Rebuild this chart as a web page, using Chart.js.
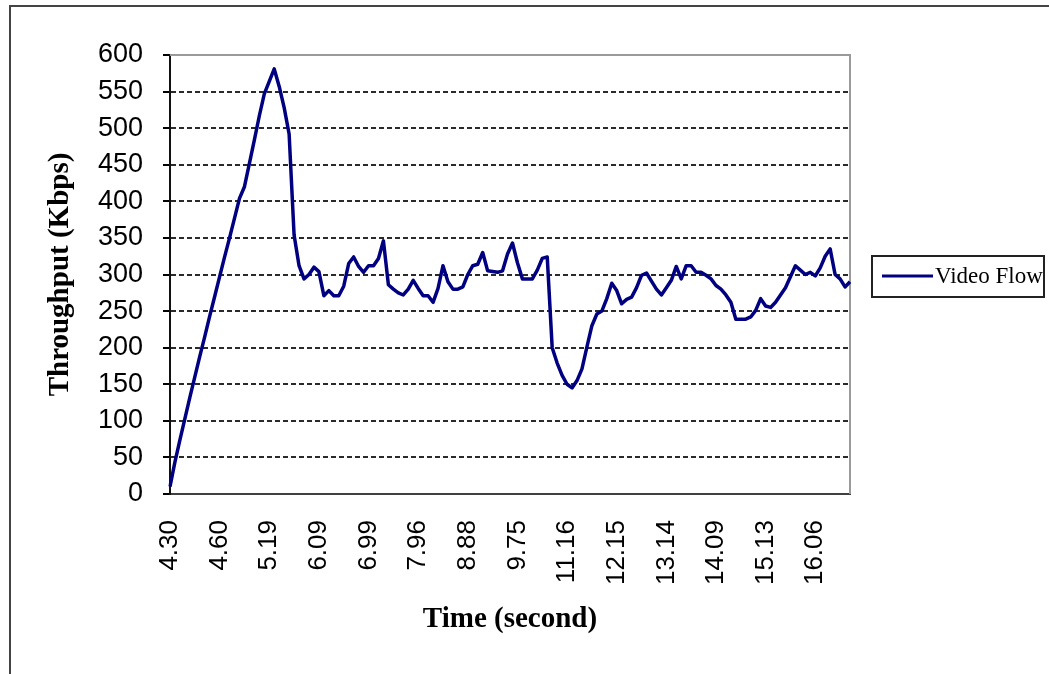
<!DOCTYPE html>
<html>
<head>
<meta charset="utf-8">
<script src="https://cdn.jsdelivr.net/npm/chart.js@4.4.0/dist/chart.umd.min.js"></script>
<style>
  html, body { margin: 0; padding: 0; background: #fff; }
  #wrap { position: relative; width: 1049px; height: 674px; overflow: hidden; }
  #frame { position: absolute; left: 9px; top: 5px; width: 1100px; height: 700px;
           border-left: 2px solid #444; border-top: 2px solid #444; }
  canvas { position: absolute; left: 0; top: 0; }
</style>
</head>
<body>
<div id="wrap">
  <div id="frame"></div>
  <canvas id="chart" width="1049" height="674"></canvas>
</div>
<script>
// ─── Data ────────────────────────────────────────────────────────────────────
const TICK_LABELS = ['4.30', '4.60', '5.19', '6.09', '6.99', '7.96', '8.88',
                     '9.75', '11.16', '12.15', '13.14', '14.09', '15.13', '16.06'];
const LABEL_EVERY = 10;   // one time label per 10 samples

const THROUGHPUT = [
  10, 44, 74, 103, 132, 160, 188, 215, 243, 270,
  297, 324, 350, 377, 404, 420, 452, 484, 517, 547,
  564, 581, 557, 528, 492, 354, 312, 294, 300, 310,
  304, 271, 278, 271, 271, 284, 315, 324, 311, 303,
  312, 312, 322, 346, 286, 280, 275, 272, 280, 292,
  281, 271, 271, 262, 281, 312, 290, 280, 280, 283,
  300, 312, 314, 330, 305, 304, 303, 305, 328, 343,
  316, 294, 294, 294, 306, 322, 324, 200, 179, 162,
  150, 145, 155, 171, 201, 230, 246, 250, 267, 288,
  278, 260, 266, 269, 282, 299, 302, 291, 280, 272,
  282, 292, 311, 294, 312, 312, 303, 303, 299, 294,
  285, 280, 272, 262, 239, 239, 239, 242, 251, 267,
  257, 255, 262, 272, 282, 297, 312, 306, 300, 303,
  298, 309, 325, 335, 300, 294, 283, 290
];

const categories = THROUGHPUT.map((_, i) =>
  i % LABEL_EVERY === 0 ? (TICK_LABELS[i / LABEL_EVERY] || '') : '');

const SANS  = '"Liberation Sans", Arial, sans-serif';
const SERIF = '"Liberation Serif", "Times New Roman", serif';

// ─── Excel-style plot frame (grey top + right edge) ──────────────────────────
const plotFrame = {
  id: 'plotFrame',
  beforeDatasetsDraw(chart) {
    const { ctx, chartArea: a } = chart;
    ctx.save();
    ctx.strokeStyle = '#9a9a9a';
    ctx.lineWidth = 2;
    ctx.beginPath();
    ctx.moveTo(a.left, a.top);
    ctx.lineTo(a.right, a.top);
    ctx.lineTo(a.right, a.bottom);
    ctx.stroke();
    ctx.restore();
  }
};

// ─── Boxed legend to the right of the plot ───────────────────────────────────
const boxLegend = {
  id: 'boxLegend',
  afterDraw(chart) {
    const { ctx, chartArea: a } = chart;
    const ds = chart.data.datasets[0];
    const x = a.right + 22, y = 256, w = 172, h = 41;
    ctx.save();
    ctx.strokeStyle = '#222';
    ctx.lineWidth = 2;
    ctx.strokeRect(x, y, w, h);
    ctx.strokeStyle = ds.borderColor;
    ctx.lineWidth = 3;
    ctx.beginPath();
    ctx.moveTo(x + 10, y + 20);
    ctx.lineTo(x + 61, y + 20);
    ctx.stroke();
    ctx.fillStyle = '#000';
    ctx.font = '23px ' + SERIF;
    ctx.textBaseline = 'middle';
    ctx.fillText(ds.label, x + 63, y + 21);
    ctx.restore();
  }
};

new Chart(document.getElementById('chart'), {
  type: 'line',
  data: {
    labels: categories,
    datasets: [{
      label: 'Video Flow',
      data: THROUGHPUT,
      borderColor: '#000080',
      borderWidth: 3.5,
      borderJoinStyle: 'round',
      pointRadius: 0,
      tension: 0,
      fill: false
    }]
  },
  options: {
    responsive: false,
    animation: false,
    layout: { padding: { top: 55, right: 199, bottom: 0, left: 0 } },
    plugins: {
      legend: { display: false },
      tooltip: { enabled: false }
    },
    scales: {
      x: {
        type: 'category',
        offset: false,
        grid: { display: false, drawTicks: false },
        border: { display: true, color: '#404040', width: 2 },
        ticks: {
          autoSkip: false,
          minRotation: 90,
          maxRotation: 90,
          padding: 26,
          color: '#000',
          font: { family: SANS, size: 26 },
          callback(val, i) { return categories[i] || null; }
        },
        title: {
          display: true,
          text: 'Time (second)',
          color: '#000',
          font: { family: SERIF, size: 29, weight: 'bold' },
          padding: { top: 0, bottom: 37 }
        },
        afterFit(axis) {
          axis.height = 180;
          axis.paddingLeft = 0;
          axis.paddingRight = 0;
        }
      },
      y: {
        min: 0,
        max: 600,
        grid: {
          color: c => (c.tick && (c.tick.value === 600 || c.tick.value === 0)) ? 'rgba(0,0,0,0)' : '#2a2a2a',
          tickColor: '#000',
          tickLength: 7,
          tickWidth: 2,
          lineWidth: 2
        },
        border: { display: true, color: '#111', width: 2, dash: [5, 3] },
        ticks: {
          stepSize: 50,
          autoSkip: false,
          padding: 20,
          color: '#000',
          font: { family: SANS, size: 27 }
        },
        title: {
          display: true,
          text: 'Throughput (Kbps)',
          color: '#000',
          font: { family: SERIF, size: 29, weight: 'bold' },
          padding: { top: 43, bottom: 0 }
        },
        afterFit(axis) {
          axis.width = 170;
          axis.paddingTop = 0;
          axis.paddingBottom = 0;
        }
      }
    }
  },
  plugins: [plotFrame, boxLegend]
});
</script>
</body>
</html>
